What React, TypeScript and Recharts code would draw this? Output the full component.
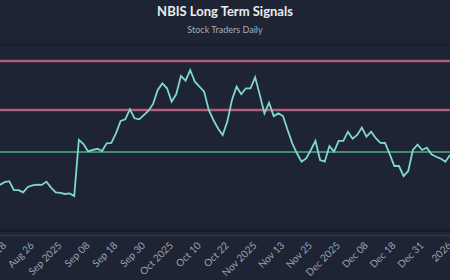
import { LineChart, Line, XAxis, YAxis, ReferenceLine } from "recharts";

// NBIS daily closes (one point per session)
const PRICES = [
  72.9, 74.3, 74.7, 70.4, 70.4, 69.3, 71.9, 72.7, 73.0, 72.9,
  74.5, 71.6, 69.3, 69.0, 68.5, 68.8, 67.5, 94.8, 92.8, 89.2,
  90.0, 90.5, 89.4, 93.1, 93.3, 98.0, 104.0, 104.8, 109.7, 105.3,
  104.8, 106.9, 109.0, 112.3, 119.1, 122.3, 119.9, 113.4, 117.1, 125.9,
  123.6, 128.8, 123.1, 120.7, 118.3, 109.4, 104.5, 100.4, 97.2, 103.7,
  114.2, 120.7, 117.0, 119.9, 119.9, 125.3, 116.7, 107.7, 112.9, 106.4,
  107.7, 106.4, 99.6, 93.1, 88.3, 84.2, 85.8, 89.9, 94.3, 85.0,
  84.2, 91.8, 89.1, 94.3, 94.3, 98.8, 95.4, 97.2, 100.8, 96.4,
  98.8, 95.6, 93.4, 93.3, 87.9, 82.1, 82.1, 77.2, 79.7, 89.9,
  92.5, 89.9, 91.0, 87.8, 86.6, 85.7, 84.2, 87.5,
];

// signal levels
const RESISTANCE = [133.2, 109.4];
const SUPPORT = [88.9];

// x tick labels and the session index each sits on
const TICK_LABELS = [
  "Aug 18", "Aug 26", "Sep 2025", "Sep 08", "Sep 18", "Sep 30", "Oct 2025",
  "Oct 10", "Oct 22", "Nov 2025", "Nov 13", "Nov 25", "Dec 2025", "Dec 08",
  "Dec 18", "Dec 31", "2026",
];
const TICK_INDEX = [1, 7, 13, 19, 25, 31, 37, 43, 49, 55, 61, 67, 73, 79, 85, 91, 97];

const data = PRICES.map((price, i) => ({ i, price }));
const FONT = "Lato, 'Open Sans', sans-serif";

function DateTick(props: any) {
  const { x, y, payload } = props;
  const idx = TICK_INDEX.indexOf(payload.value);
  return (
    <text
      transform={`translate(${x},${y + 4}) rotate(-45)`}
      textAnchor="end"
      dy={3}
      fill="#9aa2b2"
      fontSize={10}
      fontFamily={FONT}
    >
      {idx >= 0 ? TICK_LABELS[idx] : ""}
    </text>
  );
}

export default function App() {
  return (
    <div
      style={{
        position: "fixed",
        left: 0,
        top: 0,
        width: 450,
        height: 280,
        background: "#1e2433",
        overflow: "hidden",
        fontFamily: FONT,
      }}
    >
      <div
        style={{
          position: "absolute",
          top: 3,
          width: 450,
          textAlign: "center",
          color: "#e9ebef",
          fontWeight: 700,
          fontSize: 13,
        }}
      >
        NBIS Long Term Signals
      </div>
      <div
        style={{
          position: "absolute",
          top: 24,
          width: 450,
          textAlign: "center",
          color: "#a7adba",
          fontSize: 9,
        }}
      >
        Stock Traders Daily
      </div>
      <div style={{ position: "absolute", top: 44, left: 0, width: 450, height: 2, background: "#1a1f2b" }} />

      <div style={{ position: "absolute", top: 0, left: 0 }}>
        <LineChart width={450} height={280} data={data} margin={{ top: 47, right: 0, bottom: 0, left: 0 }}>
          <YAxis hide type="number" domain={[50, 140]} />
          <XAxis
            dataKey="i"
            type="number"
            domain={[0, 97]}
            ticks={TICK_INDEX}
            interval={0}
            height={48}
            tickLine={false}
            axisLine={false}
            tick={<DateTick />}
            allowDataOverflow
          />
          {RESISTANCE.map((v) => (
            <ReferenceLine key={`rh${v}`} y={v} stroke="#6e2c44" strokeOpacity={0.6} strokeWidth={4} />
          ))}
          {RESISTANCE.map((v) => (
            <ReferenceLine key={`r${v}`} y={v} stroke="#a8647f" strokeWidth={2} />
          ))}
          {SUPPORT.map((v) => (
            <ReferenceLine key={`s${v}`} y={v} stroke="#3f8d6c" strokeWidth={2} />
          ))}
          <Line
            type="linear"
            dataKey="price"
            stroke="#7fd8d0"
            strokeWidth={1.8}
            dot={false}
            isAnimationActive={false}
          />
        </LineChart>
      </div>

      <div style={{ position: "absolute", top: 229, left: 0, width: 450, height: 3, background: "#171c27" }} />
      <div style={{ position: "absolute", top: 235, left: 0, width: 450, height: 1, background: "#363d4c" }} />
    </div>
  );
}
